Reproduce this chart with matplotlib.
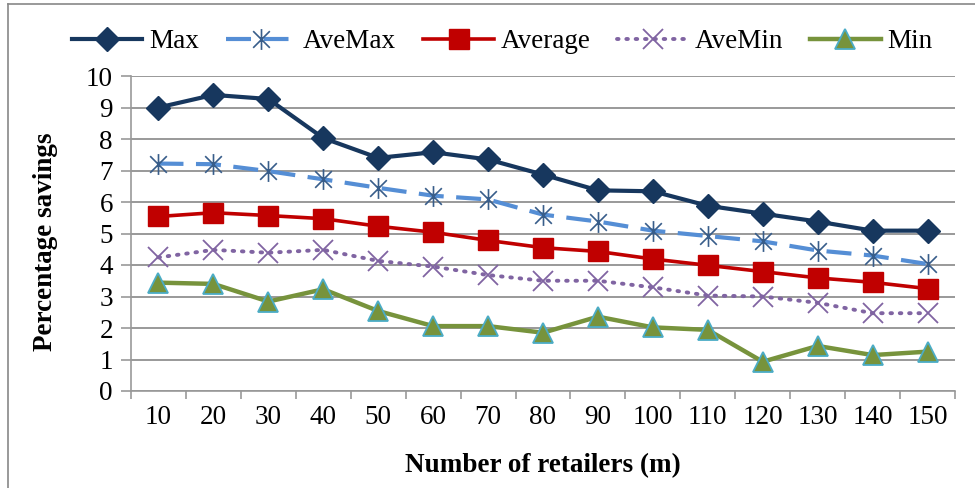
import matplotlib.pyplot as plt
import numpy as np
from matplotlib.path import Path
from matplotlib.lines import Line2D

plt.rcParams['font.family'] = ['Liberation Serif', 'DejaVu Serif']

retailers = ['10', '20', '30', '40', '50', '60', '70', '80', '90', '100',
             '110', '120', '130', '140', '150']
max_sav = [9.0, 9.4, 9.27, 8.03, 7.4, 7.58, 7.35, 6.87, 6.37, 6.34,
           5.88, 5.63, 5.38, 5.09, 5.09]
avemax_sav = [7.22, 7.2, 6.98, 6.72, 6.45, 6.2, 6.08, 5.6, 5.38, 5.09,
              4.92, 4.75, 4.46, 4.3, 4.03]
average_sav = [5.54, 5.66, 5.57, 5.47, 5.23, 5.04, 4.78, 4.55, 4.43, 4.19,
               3.99, 3.79, 3.59, 3.45, 3.25]
avemin_sav = [4.24, 4.48, 4.39, 4.48, 4.13, 3.95, 3.68, 3.5, 3.5, 3.29,
              3.03, 3.0, 2.8, 2.47, 2.47]
min_sav = [3.44, 3.4, 2.84, 3.23, 2.54, 2.06, 2.06, 1.85, 2.36, 2.02,
           1.94, 0.93, 1.43, 1.14, 1.25]

# Excel-style star: an X with a vertical bar through it
star = Path([(-1, -1), (1, 1), (-1, 1), (1, -1), (0, -1.25), (0, 1.25)],
            [Path.MOVETO, Path.LINETO, Path.MOVETO, Path.LINETO,
             Path.MOVETO, Path.LINETO])

fs = 19.5
fig = plt.figure(figsize=(9.75, 4.88), dpi=100)
ax = fig.add_axes([131 / 975, 1 - 391 / 488, (955 - 131) / 975, (391 - 76) / 488])
x = np.arange(len(retailers))

ax.plot(x, max_sav, color='#17375E', lw=3.0, marker='D', ms=12,
        mfc='#17375E', mec='#17375E', label='Max', zorder=5)
ax.plot(x, avemax_sav, color='#558ED5', lw=3.0, dashes=(6, 3),
        marker=star, ms=15, mfc='none', mec='#385D8A', mew=1.2,
        label='AveMax', zorder=4)
ax.plot(x, average_sav, color='#C00000', lw=2.6, marker='s', ms=14,
        mfc='#C00000', mec='#C00000', label='Average', zorder=4)
ax.plot(x, avemin_sav, color='#8064A2', lw=2.8, linestyle=(0, (0.4, 2.0)),
        dash_capstyle='round', marker='x', ms=14, mec='#8064A2', mew=1.3,
        label='AveMin', zorder=3)
ax.plot(x, min_sav, color='#77933C', lw=3.2, marker='^', ms=14,
        mfc='#77933C', mec='#4BACC6', mew=1.3, label='Min', zorder=3)

ax.set_xlim(-0.5, len(retailers) - 0.5)
ax.set_ylim(0, 10)
ax.set_yticks(range(0, 11))
ax.set_xticks(x)
ax.set_xticklabels(retailers)
ax.set_xticks(np.arange(-0.5, len(retailers)), minor=True)
ax.tick_params(axis='x', which='major', length=0, pad=10, labelsize=fs)
ax.tick_params(axis='x', which='minor', length=6, color='#999999', width=1.2)
ax.tick_params(axis='y', length=7, color='#999999', width=1.2, pad=6,
               labelsize=fs)
ax.grid(axis='y', color='#999999', lw=1.4)
ax.set_axisbelow(True)
for s in ['top', 'right']:
    ax.spines[s].set_visible(False)
for s in ['left', 'bottom']:
    ax.spines[s].set_color('#999999')
    ax.spines[s].set_linewidth(1.2)

ax.set_ylabel('Percentage savings', fontsize=fs, fontweight='bold')
ax.yaxis.set_label_coords(46 / 975, 1 - 242 / 488, transform=fig.transFigure)
ax.yaxis.label.set_verticalalignment('center')
ax.set_xlabel('Number of retailers (m)', fontsize=fs, fontweight='bold')
ax.xaxis.set_label_coords(543 / 975, 1 - 466 / 488, transform=fig.transFigure)
ax.xaxis.label.set_verticalalignment('center')

leg = fig.legend(loc='center', bbox_to_anchor=(0.515, 1 - 42 / 488), ncol=5,
                 frameon=False, fontsize=fs, handlelength=2.6,
                 columnspacing=1.0, handletextpad=0.25)

# outer chart border
fig.add_artist(Line2D([8 / 975, 8 / 975], [0, 1 - 4 / 488],
                      transform=fig.transFigure, color='#888888', lw=1.2))
fig.add_artist(Line2D([8 / 975, 1], [1 - 4 / 488, 1 - 4 / 488],
                      transform=fig.transFigure, color='#888888', lw=1.2))

fig.savefig('out.png', dpi=100)
